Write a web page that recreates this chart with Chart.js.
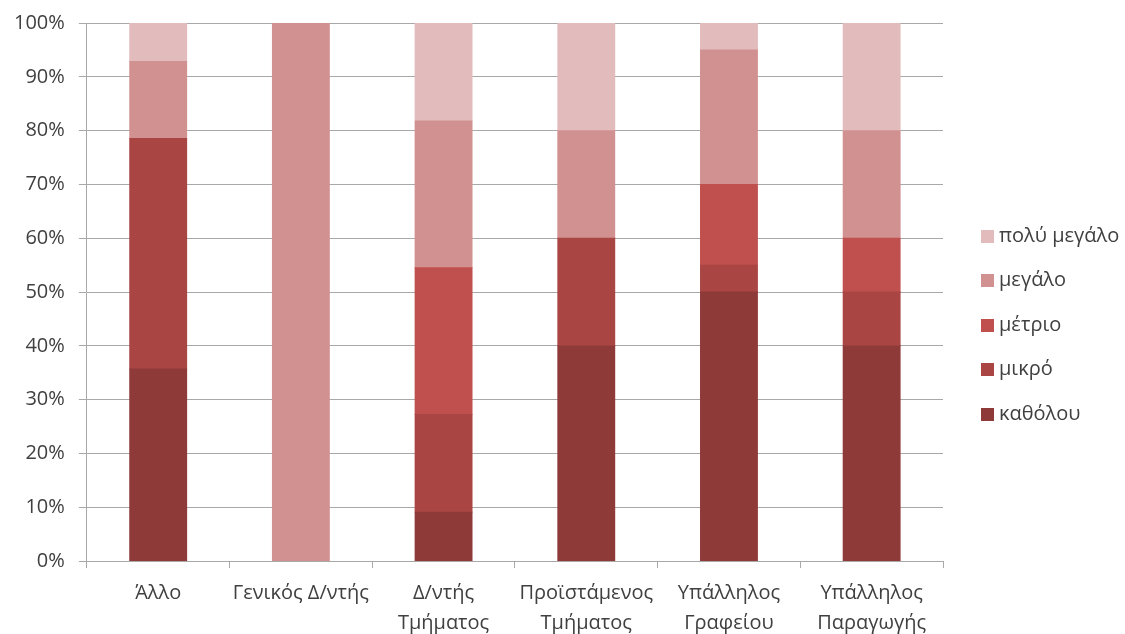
<!DOCTYPE html>
<html>
<head>
<meta charset="utf-8">
<script src="https://cdn.jsdelivr.net/npm/chart.js@4.4.1/dist/chart.umd.min.js"></script>
<style>
  html, body { margin: 0; padding: 0; background: #ffffff; }
  #c { display: block; }
</style>
</head>
<body>
<canvas id="c" width="1125" height="634"></canvas>
<script>
// Categories (job positions) along the horizontal axis
const categories = [
  'Άλλο',
  'Γενικός Δ/ντής',
  ['Δ/ντής', 'Τμήματος'],
  ['Προϊστάμενος', 'Τμήματος'],
  ['Υπάλληλος', 'Γραφείου'],
  ['Υπάλληλος', 'Παραγωγής']
];

// Share of answers per category, in percent
const katholou   = [35.71,   0,  9.09, 40, 50, 40];
const mikro      = [42.86,   0, 18.18, 20,  5, 10];
const metrio     = [ 0,      0, 27.27,  0, 15, 10];
const megalo     = [14.29, 100, 27.27, 20, 25, 20];
const polyMegalo = [ 7.14,   0, 18.18, 20,  5, 20];

const seriesNames  = ['καθόλου', 'μικρό', 'μέτριο', 'μεγάλο', 'πολύ μεγάλο'];
const seriesColors = ['#8E3A39', '#A94644', '#C0504D', '#D29191', '#E2BCBC'];

// Value axis tick labels
const yTickValues = [0, 10, 20, 30, 40, 50, 60, 70, 80, 90, 100];
const yTickLabels = ['0%', '10%', '20%', '30%', '40%', '50%', '60%', '70%', '80%', '90%', '100%'];

const FONT = "'Open Sans', 'DejaVu Sans', sans-serif";
const FONT_SIZE = 20;
const TEXT = '#404040';
const GRID = '#A8A8A8';

const seriesData = [katholou, mikro, metrio, megalo, polyMegalo];
const datasets = seriesNames.map((name, i) => ({
  label: name,
  data: seriesData[i],
  backgroundColor: seriesColors[i],
  borderWidth: 0,
  // close hairline gaps between stacked segments, but leave empty segments empty
  inflateAmount: (ctx) => (ctx.raw > 0 ? 0.4 : 0),
  barPercentage: 0.4,
  categoryPercentage: 1.0,
  stack: 'answers'
}));

// Legend on the right: square swatches, top item is the last series
const sideLegend = {
  id: 'sideLegend',
  afterDraw(chart) {
    const { ctx, chartArea } = chart;
    const items = chart.data.datasets.map((ds) => ({ text: ds.label, color: ds.backgroundColor })).reverse();
    const gap = 44.5;
    const box = 13;
    const x = chartArea.right + 38;
    const yMid = chart.height / 2 + 8;
    const y0 = yMid - gap * (items.length - 1) / 2;
    ctx.save();
    ctx.font = FONT_SIZE + 'px ' + FONT;
    ctx.textBaseline = 'middle';
    ctx.textAlign = 'left';
    items.forEach((it, k) => {
      const y = y0 + k * gap;
      ctx.fillStyle = it.color;
      ctx.fillRect(x, Math.round(y - box / 2), box, box);
      ctx.fillStyle = TEXT;
      ctx.fillText(it.text, x + box + 5, y);
    });
    ctx.restore();
  }
};

new Chart(document.getElementById('c'), {
  type: 'bar',
  data: { labels: categories, datasets },
  options: {
    responsive: false,
    devicePixelRatio: 1,
    animation: false,
    layout: { padding: { left: 0, right: 182, top: 7, bottom: -14 } },
    plugins: {
      tooltip: { enabled: false },
      legend: { display: false }
    },
    scales: {
      x: {
        stacked: true,
        offset: true,
        grid: {
          offset: true,
          drawOnChartArea: false,
          drawTicks: true,
          tickLength: 7,
          color: GRID
        },
        border: { display: true, color: GRID, width: 1 },
        ticks: {
          color: TEXT,
          font: { family: FONT, size: FONT_SIZE, lineHeight: 1.5 },
          padding: 10,
          maxRotation: 0,
          autoSkip: false
        }
      },
      y: {
        stacked: true,
        min: 0,
        max: 100,
        afterBuildTicks: (axis) => {
          axis.ticks = yTickValues.map(v => ({ value: v }));
        },
        grid: {
          color: GRID,
          tickLength: 8,
          drawTicks: true
        },
        border: { display: true, color: GRID, width: 1 },
        ticks: {
          color: TEXT,
          font: { family: FONT, size: FONT_SIZE, lineHeight: 0.9 },
          padding: 14,
          callback: (value) => yTickLabels[yTickValues.indexOf(value)]
        }
      }
    }
  },
  plugins: [sideLegend]
});
</script>
</body>
</html>
